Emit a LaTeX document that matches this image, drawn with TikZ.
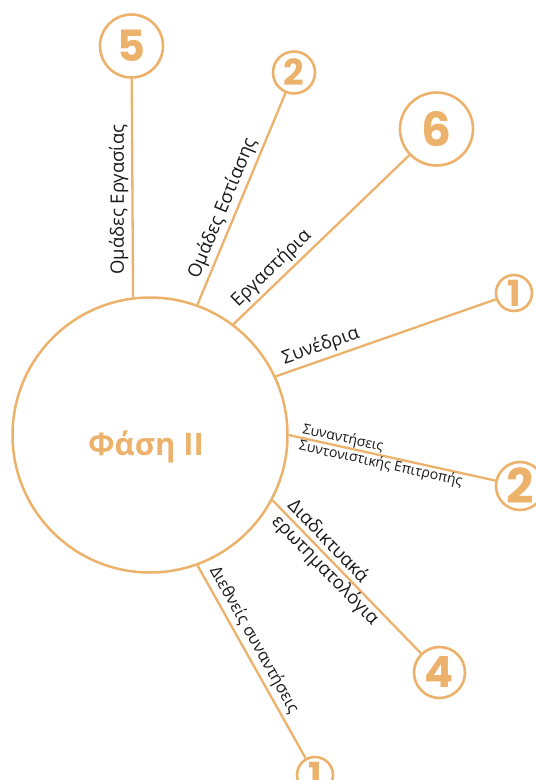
\documentclass[tikz,border=0pt]{standalone}
\usepackage{fontspec}
\usepackage{tikz}
\usetikzlibrary{positioning}
\setmainfont{Open Sans}
\newfontfamily\numfont{Poppins}
\definecolor{phaseorange}{RGB}{236, 178, 107}
\definecolor{labelblack}{RGB}{25, 25, 25}

\begin{document}
\begin{tikzpicture}[x=1pt, y=-1pt,
    phasecirc/.style={circle, draw=phaseorange, line width=2.5pt, minimum size=275pt, inner sep=0pt},
    countcirc/.style={circle, draw=phaseorange, line width=2.6pt, inner sep=0pt, text=phaseorange},
    spoke/.style={phaseorange, line width=2.3pt},
    lbl/.style={text=labelblack, sloped, inner sep=3pt, font=\fontsize{18.5}{22}\selectfont}]
    \useasboundingbox (0,0) rectangle (536,780);

    % Nodes
    \node (phase) [phasecirc] at (150,435) {};
    \node (title) [text=phaseorange, font=\bfseries\fontsize{31}{36}\selectfont] at (146,447) {Φάση II};
    \node (n5) [countcirc, minimum size=63pt, font=\numfont\bfseries\fontsize{43}{43}\selectfont] at (131.5,46) {5};
    \node (n2a) [countcirc, minimum size=42pt, font=\numfont\bfseries\fontsize{36}{36}\selectfont] at (294,72.5) {2};
    \node (n6) [countcirc, minimum size=73pt, font=\numfont\bfseries\fontsize{47}{47}\selectfont] at (436.5,129) {6};
    \node (n1a) [countcirc, minimum size=36pt, font=\numfont\bfseries\fontsize{36}{36}\selectfont] at (514,293) {1};
    \node (n2b) [countcirc, minimum size=48pt, font=\numfont\bfseries\fontsize{48}{48}\selectfont] at (520,486) {2};
    \node (n4) [countcirc, minimum size=51pt, font=\numfont\bfseries\fontsize{43}{43}\selectfont] at (439.5,672.5) {4};
    \node (n1b) [countcirc, minimum size=36pt, font=\numfont\bfseries\fontsize{36}{36}\selectfont] at (315,775) {1};

    % Spokes
    \draw [spoke] (phase.97.9) -- node [lbl, sloped=false, rotate=90, anchor=south, pos=0.447] {Ομάδες Εργασίας} (n5);
    \draw [spoke] (phase.70.4) -- node [lbl, above, pos=0.43] {Ομάδες Εστίασης} (n2a);
    \draw [spoke] (phase.53.5) -- node [lbl, above, pos=0.27] {Εργαστήρια} (n6);
    \draw [spoke] (phase.25.1) -- node [lbl, above, pos=0.225] {Συνέδρια} (n1a);
    \draw [spoke] (phase.-0.8) -- node [lbl, anchor=west, align=left, pos=0.04, font=\fontsize{14}{17}\selectfont] {Συναντήσεις\\Συντονιστικής Επιτροπής} (n2b);
    \draw [spoke] (phase.-28.6) -- node [lbl, anchor=west, align=left, pos=0.05, font=\fontsize{18.5}{22}\selectfont] {Διαδικτυακά\\ερωτηματολόγια} (n4);
    \draw [spoke] (phase.-70.6) -- node [lbl, above, pos=0.42, font=\fontsize{16.5}{19}\selectfont] {Διεθνείς συναντήσεις} (n1b);
\end{tikzpicture}
\end{document}
